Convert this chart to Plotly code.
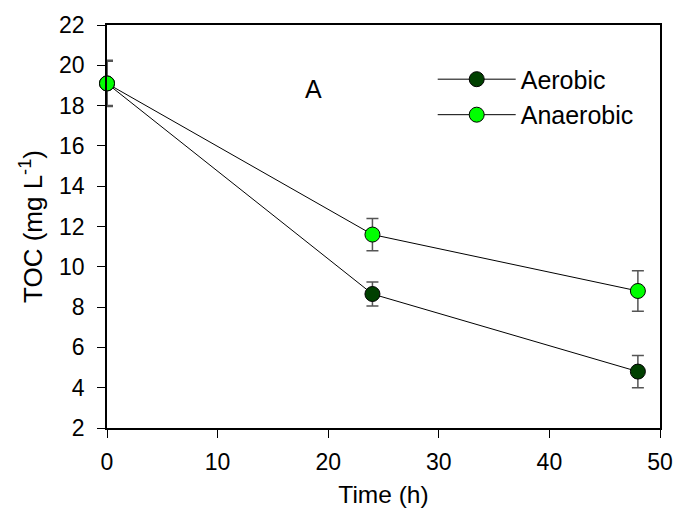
import plotly.graph_objects as go

time_h = [0, 24, 48]
aerobic = [19.1, 8.65, 4.8]
aerobic_err = [1.1, 0.6, 0.8]
anaerobic = [19.1, 11.6, 8.8]
anaerobic_err = [1.15, 0.8, 1.0]

font = "Liberation Sans, Arial, sans-serif"

fig = go.Figure()
fig.add_trace(go.Scatter(
    x=time_h, y=aerobic, name="Aerobic", mode="lines+markers",
    line=dict(color="black", width=1),
    marker=dict(size=15, color="#004000", line=dict(color="black", width=1)),
    error_y=dict(type="data", array=aerobic_err, visible=True, color="#555555", thickness=1.5, width=6),
    cliponaxis=False,
))
fig.add_trace(go.Scatter(
    x=time_h, y=anaerobic, name="Anaerobic", mode="lines+markers",
    line=dict(color="black", width=1),
    marker=dict(size=15, color="#00FF00", line=dict(color="black", width=1)),
    error_y=dict(type="data", array=anaerobic_err, visible=True, color="#555555", thickness=1.5, width=6),
    cliponaxis=False,
))

fig.add_annotation(x=18.7, y=18.8, text="A", showarrow=False,
                   font=dict(family=font, size=25, color="black"))

fig.update_layout(
    width=685, height=520,
    margin=dict(l=107, r=18, t=22, b=92),
    paper_bgcolor="white", plot_bgcolor="white",
    font=dict(family=font, size=22, color="black"),
    showlegend=True,
    legend=dict(x=0.589, y=0.922, xanchor="left", yanchor="top",
                bgcolor="rgba(0,0,0,0)", font=dict(family=font, size=25),
                tracegroupgap=0, itemwidth=78),
    xaxis=dict(range=[0, 50], dtick=10, tick0=0, showgrid=False, zeroline=False,
               showline=True, linecolor="black", linewidth=1.5, mirror=True,
               ticks="outside", ticklen=8, tickcolor="black",
               tickfont=dict(family=font, size=23), ticklabelstandoff=5,
               title=dict(text="Time (h)", standoff=12, font=dict(family=font, size=24.5))),
    yaxis=dict(range=[2, 22], dtick=2, tick0=2, showgrid=False, zeroline=False,
               showline=True, linecolor="black", linewidth=1.5, mirror=True,
               ticks="outside", ticklen=8, tickcolor="black",
               tickfont=dict(family=font, size=23), ticklabelstandoff=8,
               title=dict(text="TOC (mg L<sup>-1</sup>)", standoff=9, font=dict(family=font, size=26))),
)

fig.write_html("out.html")
